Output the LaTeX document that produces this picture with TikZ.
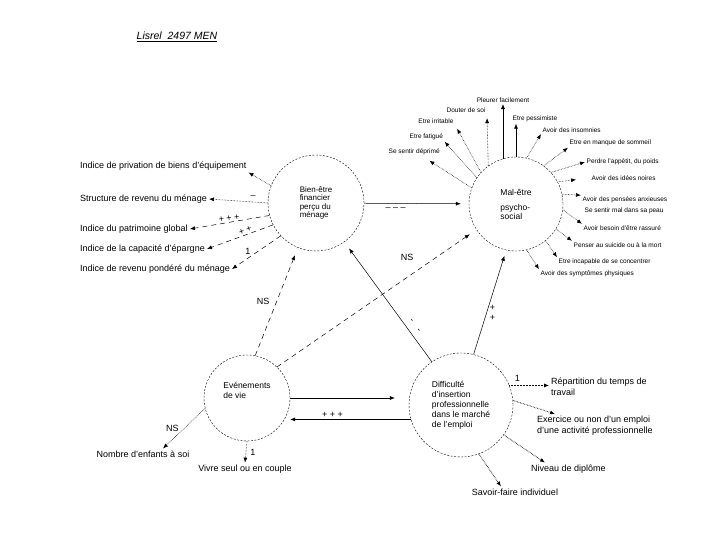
\documentclass[tikz,border=0pt]{standalone}
\usepackage{fontspec}
\setmainfont{Liberation Sans}
\usetikzlibrary{arrows.meta}

\begin{document}
\begin{tikzpicture}[x=1pt, y=-1pt,
  circ/.style={circle, draw, dash pattern=on 2pt off 1.5pt, line width=0.4pt, minimum size=96pt, inner sep=0pt, align=left, font=\fontsize{8}{8.5}\selectfont},
  big/.style={font=\fontsize{9}{10.5}\selectfont, inner sep=2pt},
  small/.style={font=\fontsize{6.5}{7.5}\selectfont, inner sep=1.5pt},
  edgelbl/.style={font=\fontsize{9}{10}\selectfont, inner sep=1pt},
  arr/.style={-{Latex[length=5pt,width=4pt]}, line width=0.5pt},
  dotarr/.style={arr, densely dotted, line width=0.6pt},
  dasharr/.style={arr, dash pattern=on 5pt off 4pt},
  dblarr/.style={arr, densely dotted, line width=0.9pt}]
\useasboundingbox (0,0) rectangle (720,540);

\node[font=\fontsize{10.5}{12}\selectfont\itshape] (title) at (177,37) {\underline{Lisrel\ \ 2497 MEN}};

% the four latent variables
\node[circ] (bien) at (316,203) {Bien-être\\financier\\perçu du\\ménage};
\node[circ, minimum size=94pt, font=\fontsize{8.5}{9}\selectfont] (mal) at (516,204) {Mal-être\\[6pt]psycho-\\social};
\node[circ, minimum size=86pt, font=\fontsize{8.5}{10}\selectfont] (event) at (247,398) {Evénements\\de vie\\[6pt]};
\node[circ, minimum size=104pt, font=\fontsize{8.5}{10}\selectfont] (diff) at (461,405) {Difficulté\\d'insertion\\professionnelle\\dans le marché\\de l'emploi};

% indicators of bien-etre
\node[big, anchor=west] (priv) at (78,166) {Indice de privation de biens d'équipement};
\node[big, anchor=west] (struct) at (78,199) {Structure de revenu du ménage};
\node[big, anchor=west] (patr) at (78,229) {Indice du patrimoine global};
\node[big, anchor=west] (epar) at (78,249) {Indice de la capacité d'épargne};
\node[big, anchor=west] (rev) at (78,269) {Indice de revenu pondéré du ménage};
\draw[dotarr] (bien.159) -- (priv.south east);
\draw[dotarr] (bien.180) -- (struct.east) node[edgelbl, pos=0.25, above=2pt] {--};
\draw[dasharr] (bien.195) -- (patr.east) node[edgelbl, midway, above, sloped] {+ + +};
\draw[dasharr] (bien.207) -- (epar.east) node[edgelbl, pos=0.4, above, sloped] {+ +};
\draw[dasharr] (bien.223) -- (rev.east) node[edgelbl, pos=0.6, above left] {1};

% indicators of mal-etre
\node[small] (pleur) at (503,100) {Pleurer facilement};
\node[small] (dout) at (466,110) {Douter de soi};
\node[small] (irr) at (436,121) {Etre irritable};
\node[small, anchor=west] (pess) at (511,119) {Etre pessimiste};
\node[small, anchor=west] (fat) at (408,137) {Etre fatigué};
\node[small, anchor=west] (depr) at (387,152) {Se sentir déprimé};
\node[small, anchor=west] (ins) at (541,130) {Avoir des insomnies};
\node[small, anchor=west] (somm) at (568,143) {Etre en manque de sommeil};
\node[small, anchor=west] (poids) at (585,162) {Perdre l'appétit, du poids};
\node[small, anchor=west] (noir) at (590,178) {Avoir des idées noires};
\node[small, anchor=west] (anx) at (581,200) {Avoir des pensées anxieuses};
\node[small, anchor=west] (peau) at (583,211) {Se sentir mal dans sa peau};
\node[small, anchor=west] (rass) at (582,228) {Avoir besoin d'être rassuré};
\node[small, anchor=west] (suic) at (572,245) {Penser au suicide ou à la mort};
\node[small, anchor=west] (conc) at (557,262) {Etre incapable de se concentrer};
\node[small, anchor=west] (symp) at (539,274) {Avoir des symptômes physiques};
\draw[arr] (mal.106) -- (mal.106 |- pleur.south);
\draw[dotarr] (mal.126) -- ([yshift=-4pt]dout.south east);
\draw[dotarr, shorten >=4pt] (mal.138) -- (irr.south east);
\draw[dotarr] (mal.146) -- (fat.south east);
\draw[dotarr] (mal.160) -- ([xshift=-12pt,yshift=-4pt]depr.south east);
\draw[arr] (mal.90) -- (mal.90 |- pess.south);
\draw[dotarr] (mal.77) -- (ins.south west);
\draw[dotarr] (mal.54) -- (somm.south west);
\draw[dotarr] (mal.42) -- (poids.west);
\draw[dotarr, shorten >=14pt] (mal.28) -- (noir.west);
\draw[dotarr] (mal.12) -- (anx.north west);
\draw[dotarr] (mal.-7) -- (rass.north west);
\draw[dotarr] (mal.-32) -- (suic.north west);
\draw[dotarr] (mal.-51) -- (conc.north west);
\draw[dotarr] (mal.-77) -- (symp.north west);

% structural paths
\draw[arr, shorten >=8pt] (bien) -- (mal) node[edgelbl, pos=0.3, below=3pt] {-- -- --};
\draw[dasharr, shorten >=8pt] (event.79) -- (bien.248) node[edgelbl, midway, left=6pt] {NS};
\draw[dasharr, shorten >=8pt] (event.46) -- (mal.213) node[edgelbl, pos=0.72, above left=6pt] {NS};
\draw[arr, shorten >=8pt] (diff.124) -- (bien.306) node[edgelbl, pos=0.3, xshift=9pt, rotate=-54] {-\quad-};
\draw[arr, shorten >=6pt] (diff.76) -- (mal.258) node[edgelbl, pos=0.4, right=2pt, align=center] {+\\+};
\draw[arr, shorten >=14pt] (event.east) -- (event.east -| diff.west);
\draw[arr] (diff.196) -- (diff.196 -| event.east) node[edgelbl, pos=0.65, above=1pt] {+ + +};

% indicators of evenements de vie
\node[big] (nomb) at (143,454) {Nombre d'enfants à soi};
\node[big] (vivre) at (245,469) {Vivre seul ou en couple};
\draw[dotarr] (event.194) -- ([xshift=20pt]nomb.north) node[edgelbl, pos=0.6, above left] {NS};
\draw[dotarr] (event.270) -- (vivre.north) node[edgelbl, midway, right=3pt] {1};

% indicators of insertion
\node[big, anchor=north west, align=left] (rep) at (549,376) {Répartition du temps de\\travail};
\node[big, anchor=north west, align=left] (exer) at (535,414) {Exercice ou non d'un emploi\\d'une activité professionnelle};
\node[big, anchor=west] (niv) at (529,469) {Niveau de diplôme};
\node[big] (sav) at (515,492) {Savoir-faire individuel};
\draw[dotarr] (diff.22) -- (diff.22 -| rep.west) node[edgelbl, pos=0.2, above=3pt] {1};
\draw[dblarr] (diff.5) -- ([xshift=20pt]exer.north west);
\draw[dblarr] (diff.-35) -- ([xshift=16pt]niv.north west);
\draw[dblarr] (diff.-70) -- ([xshift=-14pt]sav.north);
\end{tikzpicture}
\end{document}
